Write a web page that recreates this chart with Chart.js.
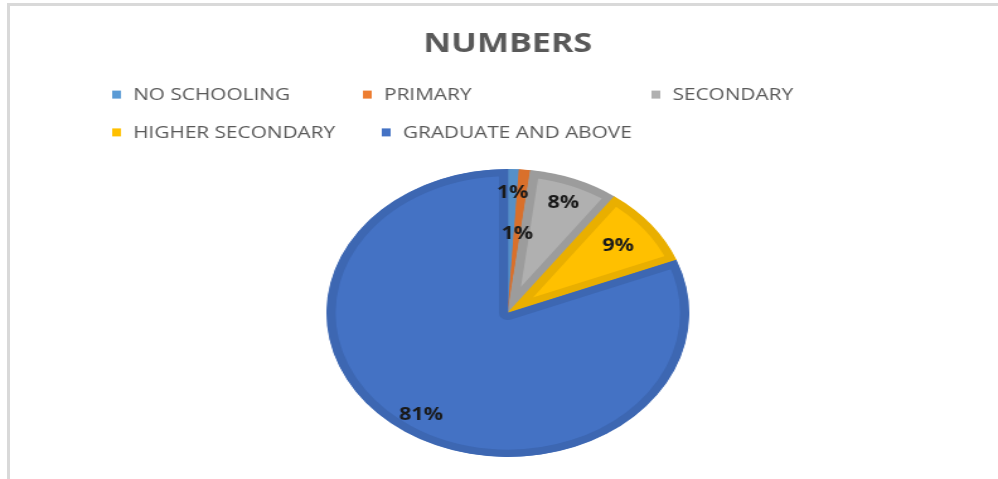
<!DOCTYPE html>
<html>
<head>
<meta charset="utf-8">
<title>Numbers</title>
<script src="https://cdn.jsdelivr.net/npm/chart.js@4.4.1/dist/chart.umd.min.js"></script>
<style>
  html, body { margin: 0; padding: 0; background: #fff; overflow: hidden; }
  #page { position: relative; width: 998px; height: 479px; }
  /* the chart is laid out narrower and then widened, so the pie comes out oval */
  #stretch { position: absolute; left: 0; top: 0; width: 792px; height: 479px; transform: scaleX(1.2601); transform-origin: 0 0; }
  #frame { position: absolute; left: 7px; top: 3px; right: 0; bottom: 0; border-top: 3px solid #d9d9d9; border-left: 3px solid #d9d9d9; pointer-events: none; }
</style>
</head>
<body>
<div id="page">
  <div id="stretch"><canvas id="pie"></canvas></div>
  <div id="frame"></div>
</div>
<script>
const categories = ['NO SCHOOLING', 'PRIMARY', 'SECONDARY', 'HIGHER SECONDARY', 'GRADUATE AND ABOVE'];
const shares = [1, 1, 8, 9, 81];

const fillColors = ['#5B9BD5', '#ED7D31', '#B0B0B0', '#FFC000', '#4472C4'];
const edgeColors = ['#5590C8', '#D9702B', '#9C9C9C', '#E9AF00', '#3D67B2'];

// legend drawn as a grid of swatches instead of the centred built-in rows
const gridLegend = {
    id: 'gridLegend',
    afterDraw(chart, args, opts) {
        const ctx = chart.ctx;
        const colors = chart.data.datasets[0].backgroundColor;
        ctx.save();
        ctx.font = opts.font;
        ctx.textBaseline = 'middle';
        ctx.textAlign = 'left';
        chart.data.labels.forEach((text, i) => {
            const [x, y] = opts.slots[i];
            ctx.fillStyle = colors[i];
            ctx.fillRect(x, y - 4, 7, 8);
            ctx.fillStyle = opts.color;
            ctx.fillText(text, x + 16.7, y + 0.5);
        });
        ctx.restore();
    }
};

// percentage text on each slice
const sliceLabels = {
    id: 'sliceLabels',
    afterDatasetsDraw(chart, args, opts) {
        const ctx = chart.ctx;
        const values = chart.data.datasets[0].data;
        const total = values.reduce((a, b) => a + b, 0);
        ctx.save();
        ctx.font = opts.font;
        ctx.fillStyle = opts.color;
        ctx.textAlign = 'center';
        ctx.textBaseline = 'middle';
        chart.getDatasetMeta(0).data.forEach((arc, i) => {
            const p = arc.getProps(['x', 'y', 'startAngle', 'endAngle', 'outerRadius'], true);
            const mid = (p.startAngle + p.endAngle) / 2;
            const r = p.outerRadius * opts.distance[i];
            const text = Math.round(values[i] / total * 100) + '%';
            ctx.fillText(text, p.x + Math.cos(mid) * r, p.y + Math.sin(mid) * r + 1);
        });
        ctx.restore();
    }
};

new Chart(document.getElementById('pie'), {
    type: 'pie',
    data: {
        labels: categories,
        datasets: [{
            data: shares,
            backgroundColor: fillColors,
            borderColor: edgeColors,
            borderWidth: 7,
            borderAlign: 'inner',
            radius: 144
        }]
    },
    options: {
        responsive: true,
        maintainAspectRatio: false,
        animation: false,
        layout: {
            padding: { left: 14, bottom: 13 }
        },
        plugins: {
            legend: { display: false },
            tooltip: { enabled: false },
            title: {
                display: true,
                text: 'NUMBERS',
                color: '#595959',
                font: { family: 'Open Sans', size: 27, weight: 'bold' },
                padding: { top: 28, bottom: 99.6 }
            },
            gridLegend: {
                font: '16.5px "Open Sans"',
                color: '#595959',
                slots: [[89, 94.6], [288, 94.6], [517, 94.6], [89, 132.4], [303, 132.4]]
            },
            sliceLabels: {
                font: 'bold 17px "Open Sans"',
                color: '#1a1a1a',
                distance: [0.84, 0.56, 0.83, 0.77, 0.85]
            }
        }
    },
    plugins: [gridLegend, sliceLabels]
});
</script>
</body>
</html>
